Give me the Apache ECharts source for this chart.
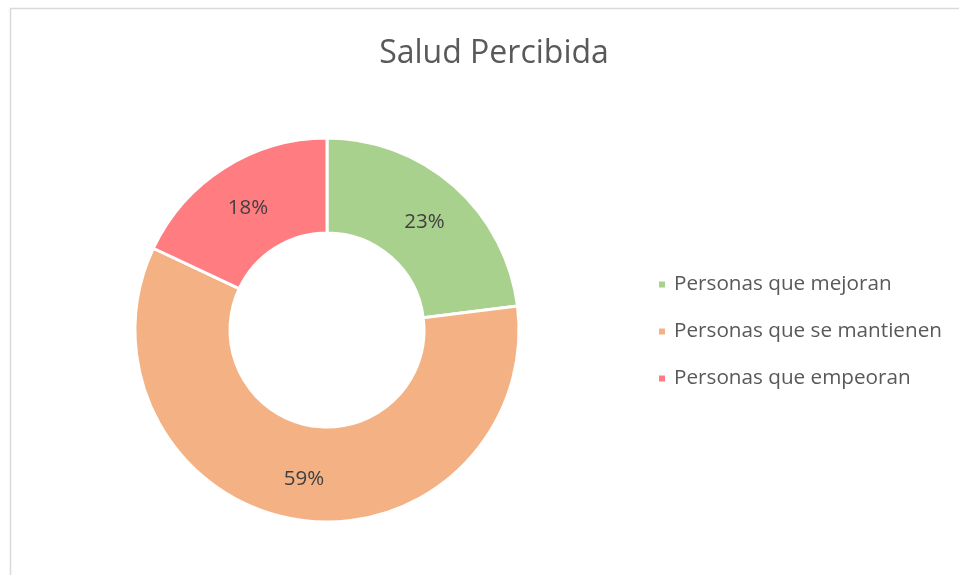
<!DOCTYPE html>
<html><head><meta charset="utf-8">
<script src="https://cdn.jsdelivr.net/npm/echarts@6/dist/echarts.min.js"></script>
<style>html,body{margin:0;padding:0;background:#fff}#c{width:959px;height:575px}</style>
</head><body><div id="c"></div>
<script>
const categories = ['Personas que mejoran', 'Personas que se mantienen', 'Personas que empeoran'];
const values = [23, 59, 18];
const colors = ['#A9D18E', '#F4B183', '#FF7C80'];
const titleText = 'Salud Percibida';

const chart = echarts.init(document.getElementById('c'), null, {renderer: 'canvas'});
chart.setOption({
  backgroundColor: '#fff',
  animation: false,
  title: {
    text: titleText, left: 489, top: 33, textAlign: 'center',
    textStyle: {fontFamily: 'Open Sans', fontWeight: 'normal', fontSize: 32, color: '#595959'}
  },
  graphic: [{
    type: 'rect', shape: {x: 10.5, y: 8.5, width: 960, height: 580},
    style: {fill: 'none', stroke: '#d9d9d9', lineWidth: 1.5}, silent: true
  }],
  legend: {
    orient: 'vertical', left: 657, top: 274, padding: 0, itemWidth: 8, itemHeight: 8, itemGap: 26,
    icon: 'rect',
    textStyle: {fontFamily: 'Open Sans', fontSize: 20.7, color: '#595959', padding: [0, 0, 0, 3]},
    data: categories
  },
  series: [{
    type: 'pie', center: [327, 330], radius: [97, 192], startAngle: 90, clockwise: true,
    avoidLabelOverlap: false,
    itemStyle: {borderColor: '#fff', borderWidth: 3},
    label: {show: true, position: 'inside', formatter: '{d}%', fontFamily: 'Open Sans', fontSize: 20.5, color: '#404040', offset: [0, 3]},
    labelLine: {show: false},
    data: categories.map((n, i) => ({name: n, value: values[i], itemStyle: {color: colors[i]}}))
  }]
});
</script></body></html>
